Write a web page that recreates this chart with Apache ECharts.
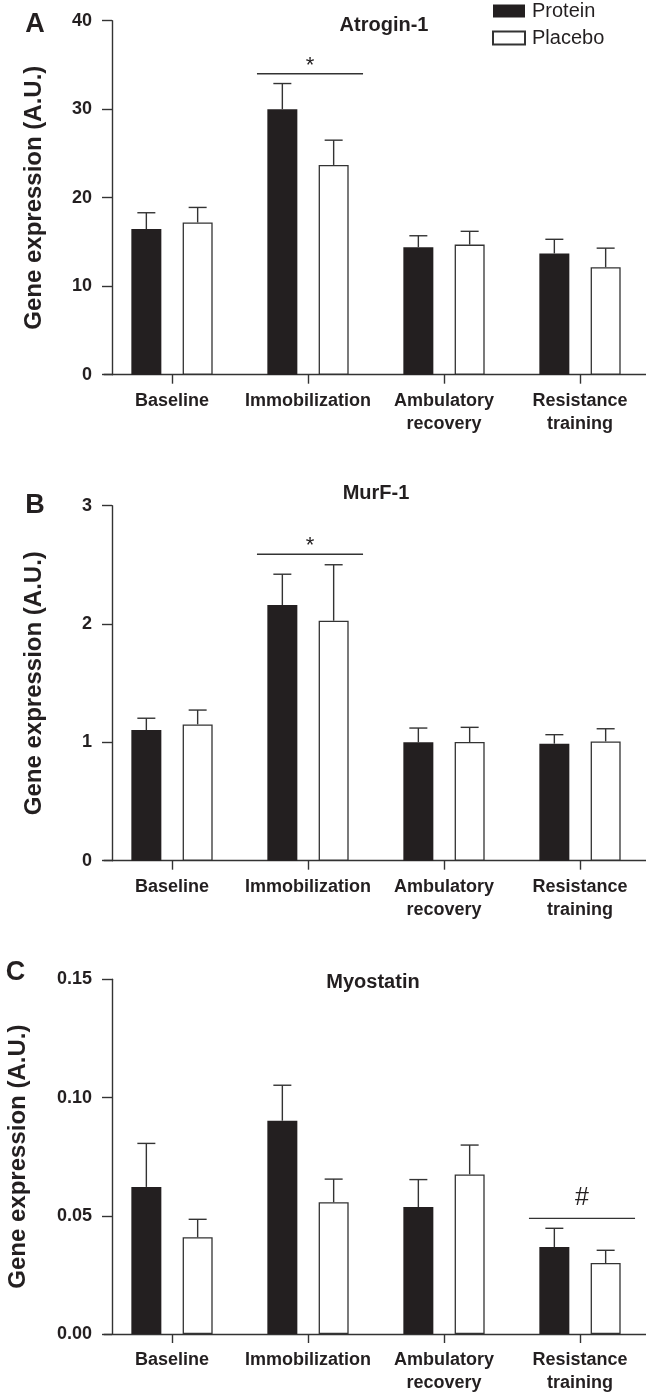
<!DOCTYPE html>
<html>
<head>
<meta charset="utf-8">
<script src="https://cdn.jsdelivr.net/npm/echarts@6/dist/echarts.min.js"></script>
<style>
html,body{margin:0;padding:0;background:#fff;}
#chart{width:646px;height:1399px;}
</style>
</head>
<body>
<div id="chart"></div>
<script>
// ---------- DATA ----------
const categories = ['Baseline', 'Immobilization', 'Ambulatory\nrecovery', 'Resistance\ntraining'];
const seriesNames = ['Protein', 'Placebo'];
const panelTitles = ['Atrogin-1', 'MurF-1', 'Myostatin'];
const panelLetters = ['A', 'B', 'C'];

const atroginProtein    = [16.45, 30.0, 14.4, 13.7];
const atroginProteinSem = [1.85, 2.9, 1.3, 1.6];
const atroginPlacebo    = [17.2, 23.7, 14.7, 12.15];
const atroginPlaceboSem = [1.7, 2.8, 1.5, 2.15];

const murfProtein    = [1.104, 2.161, 1.0, 0.989];
const murfProteinSem = [0.10, 0.26, 0.121, 0.076];
const murfPlacebo    = [1.152, 2.028, 1.003, 1.008];
const murfPlaceboSem = [0.121, 0.473, 0.124, 0.107];

const myoProtein    = [0.0622, 0.0902, 0.0537, 0.0368];
const myoProteinSem = [0.0184, 0.0150, 0.0116, 0.0079];
const myoPlacebo    = [0.0409, 0.0557, 0.0675, 0.0300];
const myoPlaceboSem = [0.0076, 0.0098, 0.0124, 0.0054];

const yMax      = [40, 3, 0.15];
const yInterval = [10, 1, 0.05];
const yDecimals = [0, 0, 2];

const sigCategory = [1, 1, 3];
const sigLevel    = [34, 2.59, 0.0489];
const sigMark     = ['*', '*', '#'];

// ---------- STYLE / LAYOUT ----------
const FONT = '"Liberation Sans", Arial, Helvetica, sans-serif';
const INK = '#231f20';
const LINE = '#333333';
const BAR_W = 30;
const BAR_GAP_PCT = 71;
const BAR_OFFSET = (BAR_W + BAR_W * BAR_GAP_PCT / 100) / 2;

const grids = [
  { left: 104, top: 20.7, width: 544, height: 354, containLabel: false, outerBoundsMode: 'none' },
  { left: 104, top: 505.7, width: 544, height: 355, containLabel: false, outerBoundsMode: 'none' },
  { left: 104, top: 979.3, width: 544, height: 354.7, containLabel: false, outerBoundsMode: 'none' }
];
const nameGaps = [66, 66, 82];
const titlePos = [[384, 25], [376, 493], [373, 982]];
const letterPos = [[35, 25], [35, 506], [15.5, 973]];

const panels = [
  { p: atroginProtein, ps: atroginProteinSem, q: atroginPlacebo, qs: atroginPlaceboSem },
  { p: murfProtein, ps: murfProteinSem, q: murfPlacebo, qs: murfPlaceboSem },
  { p: myoProtein, ps: myoProteinSem, q: myoPlacebo, qs: myoPlaceboSem }
];

function errSeries(gi, means, sems, side) {
  return {
    type: 'custom',
    xAxisIndex: gi, yAxisIndex: gi,
    z: 5,
    silent: true,
    data: means.map((m, i) => [i, m, sems[i]]),
    renderItem: function (params, api) {
      const b = api.coord([api.value(0), api.value(1)]);
      const t = api.coord([api.value(0), api.value(1) + api.value(2)]);
      const x = b[0] + side * BAR_OFFSET;
      return {
        type: 'group',
        children: [
          { type: 'line', shape: { x1: x, y1: b[1], x2: x, y2: t[1] }, style: { stroke: LINE, lineWidth: 1.4 } },
          { type: 'line', shape: { x1: x - 9, y1: t[1], x2: x + 9, y2: t[1] }, style: { stroke: LINE, lineWidth: 1.4 } }
        ]
      };
    }
  };
}

function sigSeries(gi) {
  const mark = sigMark[gi];
  return {
    type: 'custom',
    xAxisIndex: gi, yAxisIndex: gi,
    z: 6,
    silent: true,
    data: [[sigCategory[gi], sigLevel[gi]]],
    renderItem: function (params, api) {
      const c = api.coord([api.value(0), api.value(1)]);
      const band = api.size([1, 0])[0];
      const half = band * 0.39;
      const cx = c[0] + 2;
      const isHash = mark === '#';
      return {
        type: 'group',
        children: [
          { type: 'line', shape: { x1: cx - half, y1: c[1], x2: cx + half, y2: c[1] }, style: { stroke: LINE, lineWidth: 1.4 } },
          { type: 'text', x: cx, y: c[1] - (isHash ? 20 : 8),
            style: { text: mark, fill: INK, textAlign: 'center', textVerticalAlign: 'middle',
                     font: (isHash ? '25px ' : '22px ') + FONT } }
        ]
      };
    }
  };
}

const xAxes = [], yAxes = [], series = [], graphics = [];
for (let gi = 0; gi < 3; gi++) {
  xAxes.push({
    type: 'category', gridIndex: gi, data: categories,
    axisLine: { show: true, lineStyle: { color: LINE, width: 1.4 } },
    axisTick: { show: true, alignWithLabel: true, length: 9, lineStyle: { color: LINE, width: 1.4 } },
    axisLabel: { color: INK, fontFamily: FONT, fontWeight: 'bold', fontSize: 18, lineHeight: 23, margin: 15, interval: 0 },
    splitLine: { show: false }
  });
  const dec = yDecimals[gi];
  yAxes.push({
    type: 'value', gridIndex: gi, min: 0, max: yMax[gi], interval: yInterval[gi],
    offset: -8,
    name: 'Gene expression (A.U.)', nameLocation: 'middle', nameRotate: 90, nameGap: nameGaps[gi],
    nameTextStyle: { color: INK, fontFamily: FONT, fontWeight: 'bold', fontSize: 24 },
    axisLine: { show: true, lineStyle: { color: LINE, width: 1.4 } },
    axisTick: { show: true, length: 10, lineStyle: { color: LINE, width: 1.4 } },
    axisLabel: { color: INK, fontFamily: FONT, fontWeight: 'bold', fontSize: 18, margin: 20,
                 formatter: v => Number(v).toFixed(dec) },
    splitLine: { show: false }
  });
  const pd = panels[gi];
  series.push({
    name: seriesNames[0], type: 'bar', xAxisIndex: gi, yAxisIndex: gi, data: pd.p,
    barWidth: BAR_W, barGap: BAR_GAP_PCT + '%',
    itemStyle: { color: INK }, silent: true
  });
  series.push({
    name: seriesNames[1], type: 'bar', xAxisIndex: gi, yAxisIndex: gi, data: pd.q,
    barWidth: BAR_W, barGap: BAR_GAP_PCT + '%',
    itemStyle: { color: '#ffffff', borderColor: LINE, borderWidth: 1.3 }, silent: true
  });
  series.push(errSeries(gi, pd.p, pd.ps, -1));
  series.push(errSeries(gi, pd.q, pd.qs, 1));
  series.push(sigSeries(gi));

  graphics.push({
    type: 'text', x: titlePos[gi][0], y: titlePos[gi][1],
    style: { text: panelTitles[gi], fill: INK, textAlign: 'center', textVerticalAlign: 'middle',
             font: 'bold 20px ' + FONT }
  });
  graphics.push({
    type: 'text', x: letterPos[gi][0], y: letterPos[gi][1],
    style: { text: panelLetters[gi], fill: INK, textAlign: 'center', textVerticalAlign: 'middle',
             font: 'bold 27px ' + FONT }
  });
}

const chart = echarts.init(document.getElementById('chart'), null, { renderer: 'canvas' });
chart.setOption({
  backgroundColor: '#ffffff',
  animation: false,
  grid: grids,
  xAxis: xAxes,
  yAxis: yAxes,
  series: series,
  graphic: graphics,
  legend: {
    data: seriesNames,
    orient: 'vertical',
    left: 492, top: 1,
    padding: 0,
    itemWidth: 32, itemHeight: 13, itemGap: 7,
    icon: 'rect',
    selectedMode: false,
    textStyle: { color: INK, fontFamily: FONT, fontSize: 20, lineHeight: 20, padding: [0, 0, 0, 2] }
  }
});
</script>
</body>
</html>
